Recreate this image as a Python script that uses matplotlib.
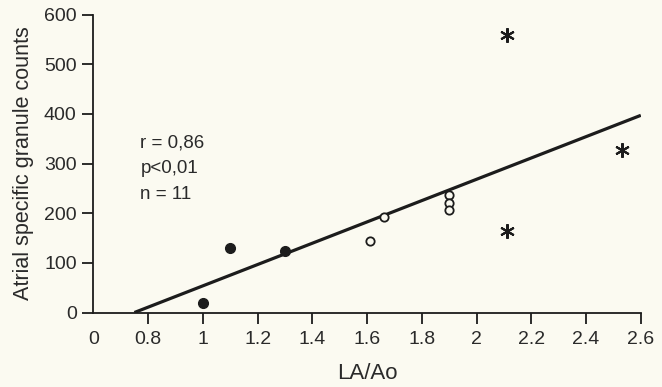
import matplotlib.pyplot as plt

# Data
filled_x = [1.0, 1.1, 1.3]
filled_y = [20, 130, 124]
open_x = [1.61, 1.66, 1.9, 1.9, 1.9]
open_y = [144, 193, 237, 221, 206]
star_x = [2.11, 2.53, 2.11]
star_y = [559, 327, 164]

# regression line end points
fit_x = [0.75, 2.6]
fit_y = [0, 397]

xticks = [0.6, 0.8, 1.0, 1.2, 1.4, 1.6, 1.8, 2.0, 2.2, 2.4, 2.6]
xticklabels = ['0', '0.8', '1', '1.2', '1.4', '1.6', '1.8', '2', '2.2', '2.4', '2.6']
yticks = [0, 100, 200, 300, 400, 500, 600]

stats = ['r = 0,86', 'p<0,01', 'n = 11']
stats_y = [341, 289, 237]

bg = '#fbfaf1'
ink = '#1c1c1c'

plt.rcParams['font.family'] = ['Liberation Sans', 'DejaVu Sans']

fig = plt.figure(figsize=(6.62, 3.87), dpi=100, facecolor=bg)
ax = fig.add_axes([0.141, 0.1925, 0.827, 0.77], facecolor=bg)

ax.plot(fit_x, fit_y, color=ink, lw=2.3, solid_capstyle='butt', zorder=2)
ax.plot(filled_x, filled_y, 'o', color=ink, ms=7, zorder=3)
ax.plot(open_x, open_y, 'o', mfc=bg, mec=ink, mew=1.3, ms=6, zorder=3)
ax.plot(star_x, star_y, marker=(6, 2, 0), ls='none', color=ink, mew=1.5, ms=10.5, zorder=3)

ax.set_xlim(0.6, 2.6)
ax.set_ylim(0, 600)
ax.set_xticks(xticks)
ax.set_xticklabels(xticklabels)
ax.set_yticks(yticks)

for s in ['top', 'right']:
    ax.spines[s].set_visible(False)
for s in ['left', 'bottom']:
    ax.spines[s].set_linewidth(1.3)
    ax.spines[s].set_color(ink)

ax.tick_params(axis='both', direction='out', length=8, width=1.3, colors=ink,
               labelsize=14, labelcolor='#2a2a2a')
ax.tick_params(axis='x', pad=5)
ax.tick_params(axis='y', pad=4)
# no tick mark under the "0" (the y axis stands there)
ax.xaxis.get_major_ticks()[0].tick1line.set_visible(False)

ax.set_xlabel('LA/Ao', fontsize=16, color='#2a2a2a', labelpad=11)
ax.set_ylabel('Atrial specific granule counts', fontsize=15.5, color='#2a2a2a', labelpad=7)

for t, yv in zip(stats, stats_y):
    ax.text(0.772, yv, t, fontsize=13.5, color='#2a2a2a', va='center', ha='left')

fig.savefig('out.png', dpi=100, facecolor=bg)
